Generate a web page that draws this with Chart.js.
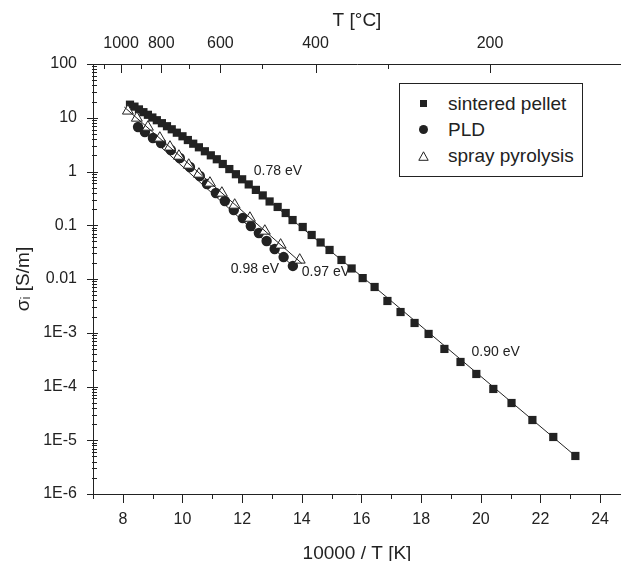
<!DOCTYPE html>
<html>
<head>
<meta charset="utf-8">
<script src="https://cdn.jsdelivr.net/npm/chart.js@4.4.1/dist/chart.umd.min.js"></script>
<style>
  body { margin: 0; background: #fff; }
  #wrap { position: relative; width: 621px; height: 561px; }
  #legend { position: absolute; left: 399px; top: 83px; width: 184px; height: 94px; border: 1px solid #222;
            box-sizing: border-box; font: 19px "Liberation Sans", Arial, sans-serif; color: #222; background: #fff; }
  .row { position: absolute; left: 0; width: 100%; height: 24px; line-height: 24px; }
  .row .txt { position: absolute; left: 48px; white-space: nowrap; }
  .mk { position: absolute; }
</style>
</head>
<body>
<div id="wrap">
  <canvas id="chart" width="621" height="561"></canvas>
  <div id="legend">
    <div class="row" style="top:8px"><div class="mk" style="left:20px;top:8px;width:7px;height:7px;background:#222"></div><span class="txt">sintered pellet</span></div>
    <div class="row" style="top:34px"><div class="mk" style="left:19px;top:7px;width:9px;height:9px;border-radius:50%;background:#222"></div><span class="txt">PLD</span></div>
    <div class="row" style="top:60px"><svg class="mk" style="left:18px;top:7px" width="11" height="10"><polygon points="5.5,0.8 10.2,9.3 0.8,9.3" fill="#fff" stroke="#222" stroke-width="1"/></svg><span class="txt">spray pyrolysis</span></div>
  </div>
</div>
<script>
// sintered pellet (squares)
const sinteredX = [8.24, 8.39, 8.54, 8.69, 8.84, 8.99, 9.14, 9.31, 9.48, 9.64, 9.81, 10.00, 10.18, 10.36, 10.55,
  10.75, 10.95, 11.15, 11.35, 11.57, 11.79, 12.00, 12.22, 12.46, 12.69, 12.92, 13.19, 13.46, 13.69, 14.03,
  14.33, 14.63, 14.93, 15.33, 15.67, 16.04, 16.44, 16.87, 17.31, 17.78, 18.25, 18.78, 19.32, 19.85, 20.42,
  21.03, 21.73, 22.43, 23.17];
const sinteredY = [17.5, 16.1, 14.3, 12.7, 11.35, 10.1, 9.0, 7.92, 6.96, 6.10, 5.27, 4.52, 3.85, 3.29, 2.82,
  2.38, 2.00, 1.69, 1.38, 1.11, 0.89, 0.716, 0.575, 0.455, 0.359, 0.277, 0.219, 0.169, 0.125, 0.0928,
  0.0659, 0.0478, 0.0347, 0.0226, 0.0157, 0.0104, 7.1e-3, 3.9e-3, 2.43e-3, 1.52e-3, 9.5e-4, 5.0e-4, 2.86e-4, 1.71e-4, 9.0e-5,
  4.93e-5, 2.38e-5, 1.15e-5, 5.1e-6];

// PLD (circles)
const pldX = [8.51, 8.74, 9.01, 9.28, 9.61, 9.91, 10.25, 10.58, 10.82, 11.12, 11.42, 11.72, 12.02, 12.29,
  12.56, 12.82, 13.09, 13.39, 13.70];
const pldY = [6.73, 5.43, 4.20, 3.39, 2.51, 1.78, 1.21, 0.824, 0.585, 0.398, 0.283, 0.192, 0.136, 0.0968,
  0.0718, 0.0509, 0.0361, 0.0256, 0.0175];

// spray pyrolysis (open triangles)
const sprayX = [8.17, 8.47, 8.84, 9.24, 9.58, 9.88, 10.21, 10.55, 10.92, 11.32, 11.75, 12.26, 12.76, 13.29, 13.93];
const sprayY = [13.4, 9.89, 6.73, 4.20, 2.86, 1.94, 1.32, 0.898, 0.611, 0.398, 0.238, 0.136, 0.0781, 0.0430, 0.0226];

// fit lines
const sinteredFitX = [8.24, 10.55, 12.92, 16.44, 23.17];
const sinteredFitY = [17.5, 2.82, 0.277, 7.1e-3, 5.1e-6];
const pldFitX = [8.45, 13.75];
const pldFitY = [7.4, 0.0165];
const sprayFitX = [8.05, 14.0];
const sprayFitY = [15.8, 0.0195];

// activation energy labels
const eaLabels = ['0.78 eV', '0.98 eV', '0.97 eV', '0.90 eV'];
const eaX = [12.39, 11.62, 14.0, 19.69];
const eaY = [1.02, 0.0153, 0.0135, 4.4e-4];

// axes
const xTicks = [7, 8, 9, 10, 11, 12, 13, 14, 15, 16, 17, 18, 19, 20, 21, 22, 23, 24];
const xTickLabels = ['', '8', '', '10', '', '12', '', '14', '', '16', '', '18', '', '20', '', '22', '', '24'];
// top axis: where the °C ticks sit on the 10000/T scale
const tempTickX = [7.36, 7.94, 8.60, 9.29, 10.21, 11.27, 12.67, 14.46, 16.88, 20.31];
const tempLabels = ['', '1000', '', '800', '', '600', '', '400', '', '200'];
const yTickValues = [1e-6, 1e-5, 1e-4, 1e-3, 0.01, 0.1, 1, 10, 100];
const yTickLabels = ['1E-6', '1E-5', '1E-4', '1E-3', '0.01', '0.1', '1', '10', '100'];

const ink = '#222';
Chart.defaults.font.family = '"Liberation Sans", Arial, sans-serif';
Chart.defaults.color = ink;

function pts(xs, ys) { return xs.map((x, i) => ({x: x, y: ys[i]})); }

const tickMarks = {
  id: 'tickMarks',
  afterDraw(chart) {
    const ctx = chart.ctx, a = chart.chartArea;
    const sx = chart.scales.x, st = chart.scales.x2, sy = chart.scales.y;
    ctx.save();
    ctx.strokeStyle = ink;
    ctx.lineWidth = 1;
    ctx.beginPath();
    sx.ticks.forEach((t, i) => {
      const p = Math.round(sx.getPixelForValue(t.value)) + 0.5;
      ctx.moveTo(p, a.bottom); ctx.lineTo(p, a.bottom + (xTickLabels[i] ? 9 : 5));
    });
    st.ticks.forEach((t, i) => {
      const p = Math.round(st.getPixelForValue(t.value)) + 0.5;
      ctx.moveTo(p, a.top); ctx.lineTo(p, a.top + (tempLabels[i] ? 9 : 5));
    });
    sy.ticks.forEach(t => {
      const p = Math.round(sy.getPixelForValue(t.value)) + 0.5;
      if (t.label) { ctx.moveTo(a.left - 6, p); ctx.lineTo(a.left + 5, p); }
      else { ctx.moveTo(a.left - 1, p); ctx.lineTo(a.left + 4, p); }
    });
    ctx.stroke();
    ctx.restore();
  }
};

const eaText = {
  id: 'eaText',
  afterDatasetsDraw(chart) {
    const ctx = chart.ctx;
    ctx.save();
    ctx.fillStyle = ink;
    ctx.font = '14px "Liberation Sans", Arial, sans-serif';
    ctx.textAlign = 'left';
    ctx.textBaseline = 'middle';
    eaLabels.forEach((s, i) => {
      ctx.fillText(s, chart.scales.x.getPixelForValue(eaX[i]), chart.scales.y.getPixelForValue(eaY[i]));
    });
    ctx.restore();
  }
};

new Chart(document.getElementById('chart'), {
  type: 'scatter',
  data: {
    datasets: [
      { label: 'sintered fit', data: pts(sinteredFitX, sinteredFitY), showLine: true, pointRadius: 0,
        borderColor: ink, borderWidth: 1, order: 1 },
      { label: 'PLD fit', data: pts(pldFitX, pldFitY), showLine: true, pointRadius: 0,
        borderColor: ink, borderWidth: 1, order: 1 },
      { label: 'spray fit', data: pts(sprayFitX, sprayFitY), showLine: true, pointRadius: 0,
        borderColor: ink, borderWidth: 1, order: 1 },
      { label: 'sintered pellet', data: pts(sinteredX, sinteredY), pointStyle: 'rect', pointRadius: 5.8,
        backgroundColor: ink, borderColor: ink, borderWidth: 0, order: 4 },
      { label: 'PLD', data: pts(pldX, pldY), pointStyle: 'circle', pointRadius: 5.2,
        backgroundColor: ink, borderColor: ink, borderWidth: 0, order: 3 },
      { label: 'spray pyrolysis', data: pts(sprayX, sprayY), pointStyle: 'triangle', pointRadius: 6.3,
        backgroundColor: '#fff', borderColor: ink, borderWidth: 1, order: 2 }
    ]
  },
  options: {
    responsive: false,
    animation: false,
    events: [],
    layout: { padding: 0, autoPadding: false },
    plugins: { legend: { display: false }, tooltip: { enabled: false } },
    scales: {
      x: {
        type: 'linear', position: 'bottom', min: 7, max: 24.7, bounds: 'data',
        afterBuildTicks: s => { s.ticks = xTicks.map(v => ({value: v})); },
        afterFit: s => { s.height = 67; },
        grid: { display: false, drawTicks: false },
        border: { display: true, color: ink, width: 1 },
        // blank first line pushes the numbers down without a large tick padding
        ticks: { autoSkip: false, maxRotation: 0, padding: 2, font: { size: 16, lineHeight: 1 },
                 callback: (v, i) => ['', xTickLabels[i]] },
        title: { display: true, text: '10000 / T [K]', font: { size: 19, lineHeight: 0.8 }, padding: 0 }
      },
      x2: {
        type: 'linear', position: 'top', min: 7, max: 24.7, bounds: 'data', display: true,
        afterBuildTicks: s => { s.ticks = tempTickX.map(v => ({value: v})); },
        afterFit: s => { s.height = 64; },
        grid: { display: false, drawTicks: false },
        border: { display: true, color: ink, width: 1 },
        ticks: { autoSkip: false, maxRotation: 0, padding: 11, font: { size: 16 },
                 callback: (v, i) => tempLabels[i] },
        title: { display: true, text: 'T [°C]', font: { size: 19 }, padding: { top: 9, bottom: 0 } }
      },
      y: {
        type: 'logarithmic', position: 'left', min: 1e-6, max: 100,
        afterBuildTicks: s => {
          const t = [];
          yTickValues.forEach((d, i) => {
            t.push({value: d});
            if (i < yTickValues.length - 1) for (let k = 2; k <= 9; k++) t.push({value: k * d});
          });
          s.ticks = t;
        },
        afterFit: s => { s.width = 93; },
        grid: { display: false, drawTicks: false },
        border: { display: true, color: ink, width: 1 },
        ticks: { autoSkip: false, padding: 16, font: { size: 16 },
                 callback: v => {
                   const j = yTickValues.findIndex(d => Math.abs(v / d - 1) < 1e-6);
                   return j >= 0 ? yTickLabels[j] : '';
                 } },
        title: { display: true, text: 'σᵢ [S/m]', font: { size: 19 }, padding: { top: 12, bottom: 0 } }
      }
    }
  },
  plugins: [tickMarks, eaText]
});
</script>
</body>
</html>
